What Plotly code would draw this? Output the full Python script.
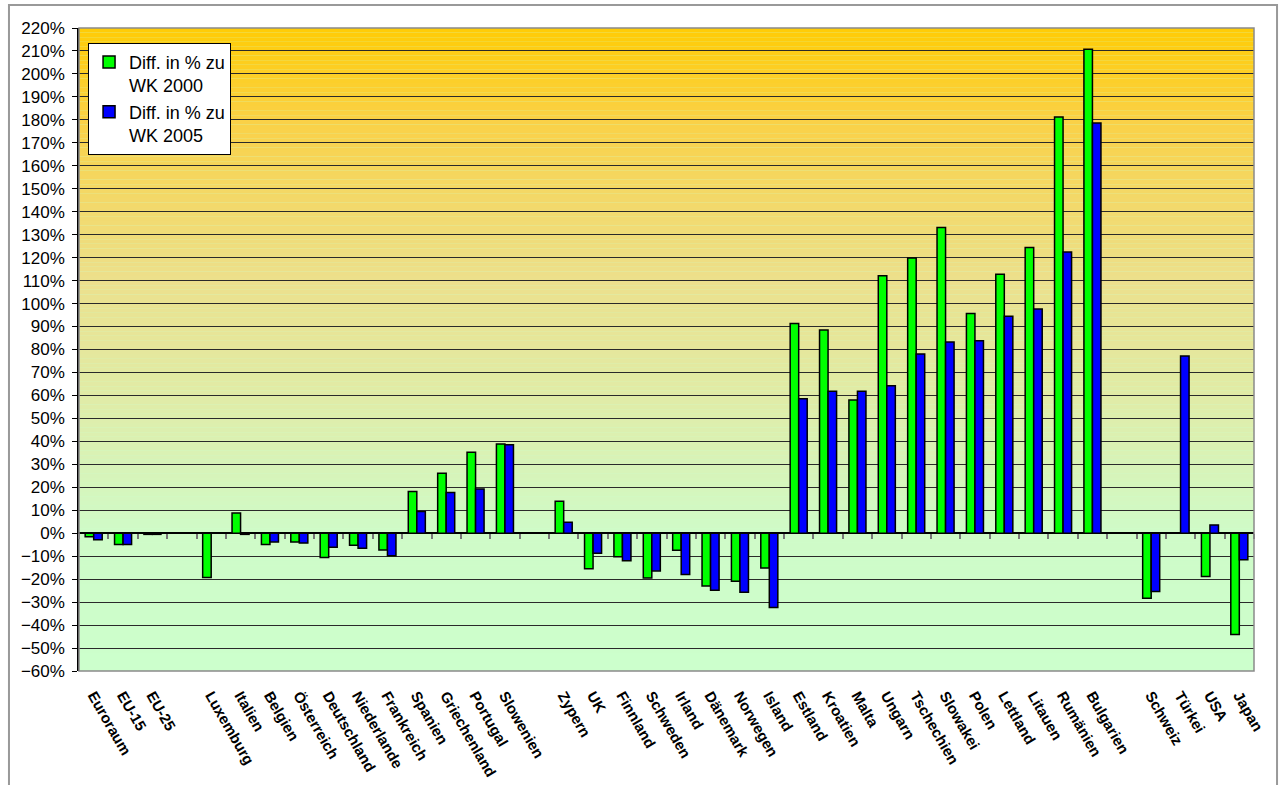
import plotly.graph_objects as go

categories = ["Euroraum", "EU-15", "EU-25", " ",
              "Luxemburg", "Italien", "Belgien", "Österreich", "Deutschland", "Niederlande",
              "Frankreich", "Spanien", "Griechenland", "Portugal", "Slowenien", "  ",
              "Zypern", "UK", "Finnland", "Schweden", "Irland", "Dänemark", "Norwegen", "Island",
              "Estland", "Kroatien", "Malta", "Ungarn", "Tschechien", "Slowakei", "Polen",
              "Lettland", "Litauen", "Rumänien", "Bulgarien", "   ",
              "Schweiz", "Türkei", "USA", "Japan"]

diff_2000 = [-1.5, -4.9, -0.5, None,
             -19.3, 8.8, -4.9, -3.8, -10.6, -5.2, -7.3, 18.2, 26.1, 35.3, 38.8, None,
             13.9, -15.5, -10.2, -19.5, -7.4, -23.0, -20.9, -15.2,
             91.3, 88.5, 58.0, 112.1, 119.8, 133.1, 95.7, 112.8, 124.4, 181.2, 210.8, None,
             -28.3, None, -18.9, -44.1]

diff_2005 = [-2.9, -4.9, -0.5, None,
             None, -0.5, -3.8, -4.3, -6.1, -6.5, -9.8, 9.5, 17.7, 19.3, 38.5, None,
             4.8, -8.7, -12.0, -16.4, -18.0, -24.8, -25.7, -32.4,
             58.5, 61.8, 61.8, 64.2, 78.0, 83.3, 83.8, 94.5, 97.6, 122.5, 178.6, None,
             -25.4, 77.2, 3.6, -11.6]

y_min, y_max = -60, 220

# background gradient stops (value, rgb)
grad_stops = [(220, (255, 204, 5)), (180, (250, 209, 70)), (110, (236, 224, 140)),
              (50, (222, 238, 172)), (0, (207, 251, 200)), (-60, (204, 255, 204))]

font_family = "Liberation Sans, Arial, sans-serif"

fig = go.Figure()
fig.add_trace(go.Bar(x=categories, y=diff_2000, name="Diff. in % zu<br>WK 2000",
                     marker=dict(color="#00FF00", line=dict(color="#000000", width=1.5))))
fig.add_trace(go.Bar(x=categories, y=diff_2005, name="Diff. in % zu<br>WK 2005",
                     marker=dict(color="#0000FF", line=dict(color="#000000", width=1.5))))
# empty helper trace so the category-boundary tick axis at the zero line is drawn
fig.add_trace(go.Scatter(x=[], y=[], xaxis="x2", yaxis="y", showlegend=False,
                         hoverinfo="skip"))


def interp(v):
    for (v1, c1), (v2, c2) in zip(grad_stops[:-1], grad_stops[1:]):
        if v2 <= v <= v1:
            t = (v1 - v) / (v1 - v2)
            return tuple(round(a + (b - a) * t) for a, b in zip(c1, c2))
    return grad_stops[-1][1]


shapes = []
step = 2.0
v = y_max
while v > y_min:
    v0 = v - step
    c = interp(v - step / 2)
    shapes.append(dict(type="rect", xref="x domain", yref="y", x0=0, x1=1, y0=v0, y1=v,
                       fillcolor="rgb(%d,%d,%d)" % c, line=dict(width=0), layer="below"))
    v = v0

# plot area frame (gray) and outer chart frame
shapes.append(dict(type="rect", xref="x domain", yref="y domain", x0=0, x1=1, y0=0, y1=1,
                   line=dict(color="#8a8a8a", width=1.5), layer="above"))
shapes.append(dict(type="rect", xref="paper", yref="paper", x0=-0.0596, x1=1.0196,
                   y0=-0.3, y1=1.0358, line=dict(color="#999999", width=2), layer="above"))

fig.update_layout(
    width=1279, height=785,
    margin=dict(l=79, r=25, t=28, b=114),
    paper_bgcolor="white",
    plot_bgcolor="#CCFFCC",
    barmode="group", bargap=0.42, bargroupgap=0.0,
    font=dict(family=font_family, color="black"),
    shapes=shapes,
    showlegend=True,
    legend=dict(x=0.0077, y=0.977, xanchor="left", yanchor="top",
                bgcolor="white", bordercolor="black", borderwidth=1,
                font=dict(size=18, family=font_family), tracegroupgap=10,
                itemwidth=30, valign="top"),
    xaxis=dict(type="category", categoryorder="array", categoryarray=categories,
               tickangle=60, tickfont=dict(size=15, family=font_family, weight="bold"),
               showgrid=False, zeroline=False, showline=False, automargin=False,
               ticks="outside", ticklen=9, tickcolor="rgba(0,0,0,0)",
               range=[-0.5, len(categories) - 0.5]),
    xaxis2=dict(overlaying="x", anchor="free", position=(0 - y_min) / (y_max - y_min),
                type="linear",
                range=[-0.5, len(categories) - 0.5], tickmode="linear", tick0=-0.5, dtick=1,
                ticks="outside", ticklen=5, tickcolor="#777777", tickwidth=1.5,
                showticklabels=False, showgrid=False, zeroline=False, showline=False,
                side="bottom", automargin=False),
    yaxis=dict(range=[y_min, y_max], dtick=10, ticksuffix="%",
               tickfont=dict(size=17, family=font_family), ticklabelstandoff=4,
               showgrid=True, gridcolor="#2a2a2a", gridwidth=1.3, automargin=False,
               zeroline=True, zerolinecolor="#000000", zerolinewidth=1.5,
               showline=True, linecolor="#000000", linewidth=1.5,
               ticks="outside", ticklen=5, tickcolor="#000000"),
)

fig.write_html("out.html", config={"displayModeBar": False},
               post_script="document.body.style.margin='0px';")
